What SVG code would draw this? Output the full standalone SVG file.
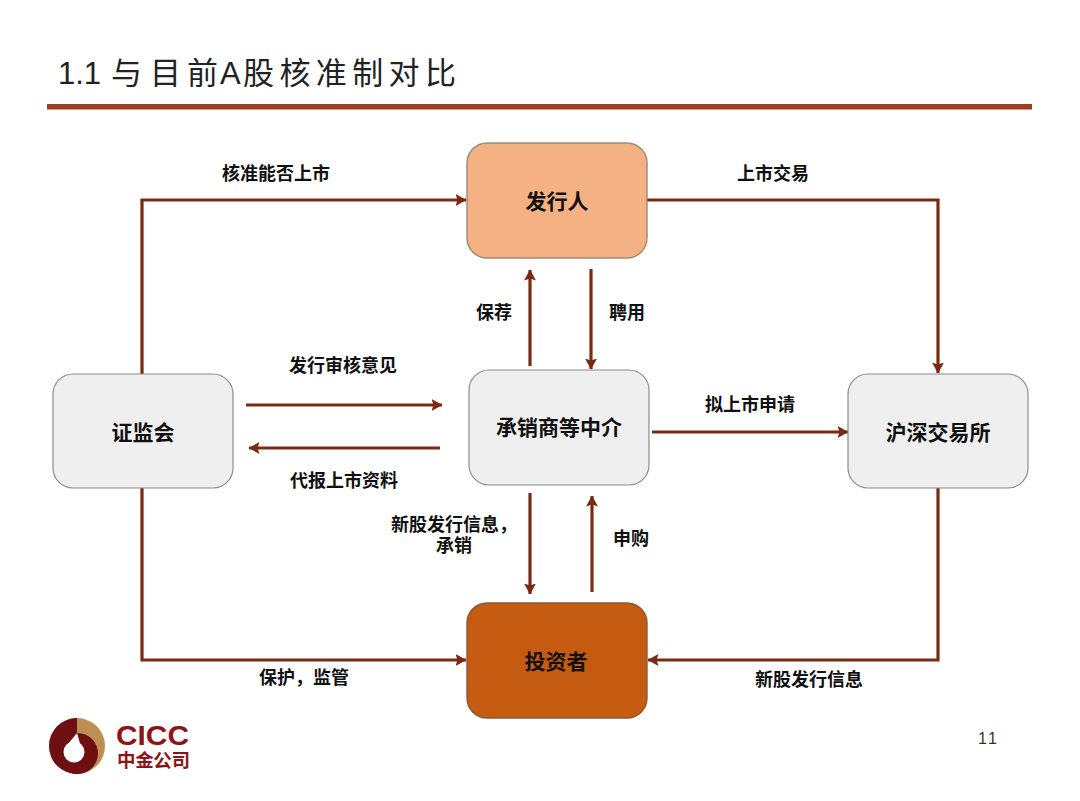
<svg xmlns="http://www.w3.org/2000/svg" width="1080" height="801" viewBox="0 0 1080 801">
<style>
text{font-family:"Noto Sans CJK SC","Liberation Sans",sans-serif;fill:#111}
.l{font-size:18px;font-weight:700;text-anchor:middle}
.n{font-size:21px;font-weight:700;text-anchor:middle}
.c{fill:none;stroke:#7b2a12;stroke-width:3.2}
.g{fill:#efefef;stroke:#8c8c8c;stroke-width:1.2}
.t{font-size:31px}
</style>
<defs><marker id="a" markerUnits="userSpaceOnUse" markerWidth="11" markerHeight="12" refX="10.5" refY="6" orient="auto"><path d="M0 0L11 6L0 12L2 6Z" fill="#7b2a12"/></marker></defs>
<rect width="1080" height="801" fill="#fff"/>
<text class="t" x="58" y="84" style="font-family:'Liberation Sans',sans-serif;fill:#222">1.1</text>
<text class="t" x="111" y="84" style="fill:#222">与</text>
<text class="t" x="150" y="84" style="fill:#222">目</text>
<text class="t" x="187" y="84" style="fill:#222">前</text>
<text class="t" x="220" y="84" style="font-family:'Liberation Sans',sans-serif;fill:#222">A</text>
<text class="t" x="243" y="84" textLength="213" style="fill:#222">股核准制对比</text>
<rect x="47" y="104" width="985" height="5.5" fill="#a23c20"/>
<g id="connectors">
<path class="c" d="M142 374V200H466" marker-end="url(#a)"/>
<path class="c" d="M647 200H938V373" marker-end="url(#a)"/>
<path class="c" d="M530 366V270" marker-end="url(#a)"/>
<path class="c" d="M591 269V369" marker-end="url(#a)"/>
<path class="c" d="M246 405H442" marker-end="url(#a)"/>
<path class="c" d="M440 448H249" marker-end="url(#a)"/>
<path class="c" d="M652 432H848" marker-end="url(#a)"/>
<path class="c" d="M530 493V594" marker-end="url(#a)"/>
<path class="c" d="M592 592V496" marker-end="url(#a)"/>
<path class="c" d="M142 488V660H466" marker-end="url(#a)"/>
<path class="c" d="M938 488V660H648" marker-end="url(#a)"/>
</g>
<g id="n-issuer"><rect x="467" y="143" width="180" height="115" rx="20" fill="#f4b183" stroke="#9a8a78" stroke-width="1.4"/><text class="n" x="557" y="209">发行人</text></g>
<g id="n-csrc"><rect class="g" x="53" y="374" width="180" height="114" rx="20"/><text class="n" x="143" y="440">证监会</text></g>
<g id="n-underwriter"><rect class="g" x="469" y="370" width="180" height="115" rx="20"/><text class="n" x="559" y="435">承销商等中介</text></g>
<g id="n-exchange"><rect class="g" x="848" y="374" width="180" height="114" rx="20"/><text class="n" x="938" y="440">沪深交易所</text></g>
<g id="n-investor"><rect x="467" y="603" width="180" height="115" rx="20" fill="#c55a11" stroke="#8a5a38" stroke-width="1.4"/><text class="n" x="556" y="669">投资者</text></g>
<g id="labels">
<text class="l" x="276" y="180">核准能否上市</text>
<text class="l" x="773" y="180">上市交易</text>
<text class="l" x="494" y="319">保荐</text>
<text class="l" x="627" y="319">聘用</text>
<text class="l" x="343" y="372">发行审核意见</text>
<text class="l" x="344" y="487">代报上市资料</text>
<text class="l" x="750" y="411">拟上市申请</text>
<text class="l"><tspan x="454" y="531">新股发行信息&#xFF0C;</tspan><tspan x="454" y="552">承销</tspan></text>
<text class="l" x="631" y="545">申购</text>
<text class="l" x="304" y="684">保护&#xFF0C;监管</text>
<text class="l" x="809" y="686">新股发行信息</text>
</g>
<g id="logo">
<circle cx="77" cy="746" r="28" fill="#bd8f52"/>
<path d="M77 718A28 28 0 0 0 77 774Z" fill="#6e0f12"/>
<circle cx="77.5" cy="753.5" r="20.5" fill="#6e0f12"/>
<circle cx="74" cy="752" r="10.5" fill="#fff"/>
<path d="M77 733L81 747L68 744Z" fill="#fff"/>
<text font-weight="700" style="fill:#8c1418"><tspan x="116" y="745" font-size="28" textLength="73" lengthAdjust="spacingAndGlyphs" style="font-family:'Liberation Sans',sans-serif">CICC</tspan><tspan x="117" y="767" font-size="18.5" textLength="73">中金公司</tspan></text>
</g>
<text x="978" y="744" font-size="16" textLength="19" style="font-family:'Liberation Sans',sans-serif;fill:#333">11</text>
</svg>
